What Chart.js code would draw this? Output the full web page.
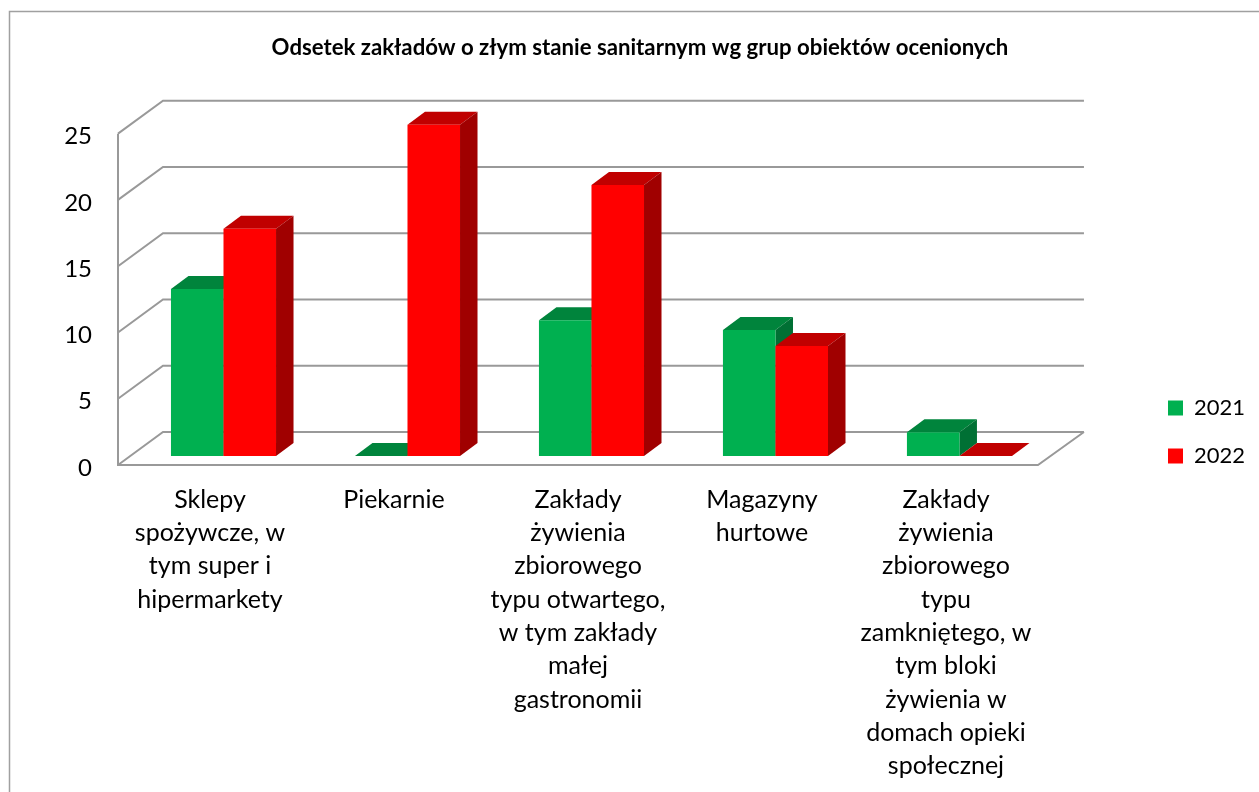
<!DOCTYPE html>
<html>
<head>
<meta charset="utf-8">
<title>Odsetek zakładów</title>
<script src="https://cdn.jsdelivr.net/npm/chart.js"></script>
<style>
  html, body { margin: 0; padding: 0; background: #fff; overflow: hidden; }
  #wrap { position: absolute; left: 0; top: 0; width: 1259px; height: 792px; }
</style>
</head>
<body>
<div id="wrap"><canvas id="chart" width="1259" height="792"></canvas></div>
<script>
const categories = [
  ['Sklepy', 'spożywcze, w', 'tym super i', 'hipermarkety'],
  ['Piekarnie'],
  ['Zakłady', 'żywienia', 'zbiorowego', 'typu otwartego,', 'w tym zakłady', 'małej', 'gastronomii'],
  ['Magazyny', 'hurtowe'],
  ['Zakłady', 'żywienia', 'zbiorowego', 'typu', 'zamkniętego, w', 'tym bloki', 'żywienia w', 'domach opieki', 'społecznej']
];
const values2021 = [12.6, 0, 10.25, 9.5, 1.8];
const values2022 = [17.15, 25, 20.45, 8.3, 0];
const yTicks = [0, 5, 10, 15, 20, 25];
const titleText = 'Odsetek zakładów o złym stanie sanitarnym wg grup obiektów ocenionych';

const FONT = 'Lato, sans-serif';
const GRID = '#999999';
// wall depth and the bars' position/depth inside the 3D box
const wall = { dx: 45, dy: -33 };
const barShift = { dx: 13.5, dy: -9 };
const barDepth = { dx: 17.5, dy: -13 };
const shades = [
  { top: '#00843c', side: '#007034' },
  { top: '#c00000', side: '#a00000' }
];

function poly(ctx, pts, fill) {
  ctx.beginPath();
  pts.forEach((p, i) => i ? ctx.lineTo(p[0], p[1]) : ctx.moveTo(p[0], p[1]));
  ctx.closePath();
  ctx.fillStyle = fill;
  ctx.fill();
}

function drawBar3d(chart, index) {
  const ctx = chart.ctx;
  ctx.save();
  ctx.translate(barShift.dx, barShift.dy);
  chart.getDatasetMeta(index).data.forEach(el => {
    const p = el.getProps(['x', 'y', 'base', 'width'], true);
    const l = p.x - p.width / 2, r = p.x + p.width / 2;
    const d = barDepth;
    poly(ctx, [[l, p.y], [l + d.dx, p.y + d.dy], [r + d.dx, p.y + d.dy], [r, p.y]], shades[index].top);
    poly(ctx, [[r, p.y], [r + d.dx, p.y + d.dy], [r + d.dx, p.base + d.dy], [r, p.base]], shades[index].side);
    el.draw(ctx, chart.chartArea);
  });
  ctx.restore();
}

const box3d = {
  id: 'box3d',
  afterLayout(chart) {
    // move the legend down and next to the plot, title over the plot
    const lg = chart.legend;
    lg.left = 1142; lg.right = lg.left + lg.width;
    lg.top += 39; lg.bottom += 39;
    const tt = chart.titleBlock;
    tt.left += 64.5; tt.right += 64.5;
    // Lato digits sit high on the middle baseline
    chart.scales.y.getLabelItems(chart.chartArea).forEach(it => { it.textOffset += 3; });
  },
  beforeDraw(chart) {
    // outer frame, only top and left are in the picture
    const ctx = chart.ctx;
    ctx.save();
    ctx.strokeStyle = '#a0a0a0';
    ctx.lineWidth = 1.5;
    ctx.beginPath();
    ctx.moveTo(9.5, 792);
    ctx.lineTo(9.5, 11.5);
    ctx.lineTo(1259, 11.5);
    ctx.stroke();
    ctx.restore();
  },
  beforeDatasetsDraw(chart) {
    const ctx = chart.ctx, y = chart.scales.y, x = chart.scales.x;
    const left = x.left, right = x.right;
    ctx.save();
    ctx.strokeStyle = GRID;
    ctx.lineWidth = 2;
    ctx.lineJoin = 'miter';
    yTicks.forEach(v => {
      const py = y.getPixelForValue(v);
      ctx.beginPath();
      ctx.moveTo(left, py);
      ctx.lineTo(left + wall.dx, py + wall.dy);
      ctx.lineTo(right + wall.dx + 1, py + wall.dy);
      ctx.stroke();
    });
    const y0 = y.getPixelForValue(0), yTop = y.getPixelForValue(yTicks[yTicks.length - 1]);
    ctx.beginPath();
    ctx.moveTo(left, yTop);
    ctx.lineTo(left, y0);
    ctx.lineTo(right, y0);
    ctx.lineTo(right + wall.dx + 1, y0 + wall.dy);
    ctx.stroke();
    ctx.restore();
  },
  // the series are painted here in left to right order, so the 2022 front covers the 2021 side
  beforeDatasetDraw() { return false; },
  afterDatasetsDraw(chart) {
    drawBar3d(chart, 0);
    drawBar3d(chart, 1);
  }
};

new Chart(document.getElementById('chart'), {
  type: 'bar',
  data: {
    labels: categories,
    datasets: [
      { label: '2021', data: values2021, backgroundColor: '#00b050', barPercentage: 1, categoryPercentage: 0.571 },
      { label: '2022', data: values2022, backgroundColor: '#ff0000', barPercentage: 1, categoryPercentage: 0.571 }
    ]
  },
  options: {
    responsive: false,
    animation: false,
    layout: { padding: { left: 0, right: 108, top: 0, bottom: 6 } },
    plugins: {
      tooltip: { enabled: false },
      title: {
        display: true,
        text: titleText,
        color: '#000',
        font: { family: FONT, size: 22.2, weight: 'bold' },
        padding: { top: 35, bottom: 72 }
      },
      legend: {
        position: 'right',
        labels: {
          color: '#000',
          boxWidth: 15,
          boxHeight: 15,
          padding: 26,
          font: { family: FONT, size: 22 }
        }
      }
    },
    scales: {
      x: {
        grid: { display: false },
        border: { display: false },
        ticks: {
          color: '#000',
          maxRotation: 0,
          autoSkip: false,
          padding: 10,
          font: { family: FONT, size: 25, lineHeight: 1.332 }
        },
        afterFit(s) { s.height = 792 - 465 - 6; }
      },
      y: {
        min: 0,
        max: 25,
        grid: { display: false },
        border: { display: false },
        ticks: {
          color: '#000',
          stepSize: 5,
          padding: 18,
          font: { family: FONT, size: 24 }
        },
        afterFit(s) { s.width = 118; }
      }
    }
  },
  plugins: [box3d]
});
</script>
</body>
</html>
